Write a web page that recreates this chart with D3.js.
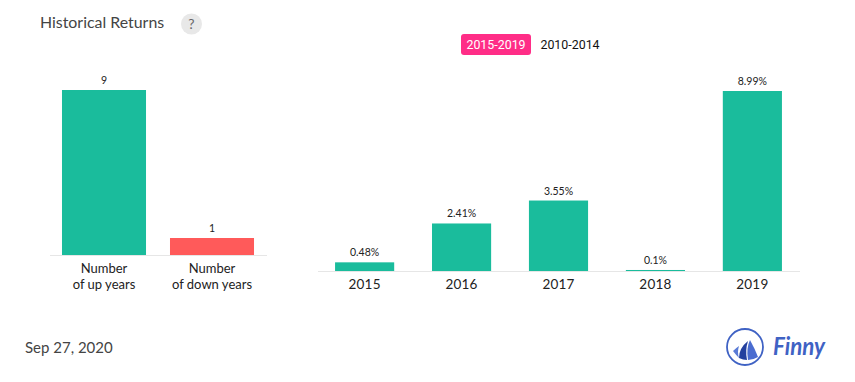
<!DOCTYPE html>
<html><head><meta charset="utf-8">
<script src="https://cdn.jsdelivr.net/npm/d3@7/dist/d3.min.js"></script>
<style>html,body{margin:0;padding:0;background:#fff}svg{display:block}text{font-family:Lato,sans-serif}</style>
</head><body><svg id="c" width="855" height="382"></svg>
<script>
const countCats = ["up", "down"];
const countLines = [["Number", "of up years"], ["Number", "of down years"]];
const countVals = [9, 1];
const countCols = ["#1abc9c", "#ff5a5a"];
const years = ["2015", "2016", "2017", "2018", "2019"];
const returns = [0.48, 2.41, 3.55, 0.1, 8.99];
const retLabels = ["0.48%", "2.41%", "3.55%", "0.1%", "8.99%"];
const ranges = ["2015-2019", "2010-2014"];

const svg = d3.select("#c");
// title
svg.append("text").attr("x",40).attr("y",28).attr("font-size",15.9).attr("fill","#444").text("Historical Returns");
svg.append("circle").attr("cx",191.5).attr("cy",24).attr("r",10.5).attr("fill","#e8e8e8");
svg.append("text").attr("x",191.5).attr("y",29).attr("text-anchor","middle").attr("font-size",14).attr("fill","#666").text("?");
// legend
svg.append("rect").attr("x",461).attr("y",34).attr("width",70).attr("height",21).attr("rx",3).attr("fill","#ff2d87");
svg.append("text").attr("x",496).attr("y",49).attr("text-anchor","middle").attr("font-size",12.4).attr("fill","#fff").style("font-family","Roboto").text(ranges[0]);
svg.append("text").attr("x",570).attr("y",49).attr("text-anchor","middle").attr("font-size",12.4).attr("fill","#111").style("font-family","Roboto").text(ranges[1]);

// left chart
const x1 = d3.scaleBand().domain(countCats).range([50,266]).paddingInner(0.222).paddingOuter(0.111);
const y1 = d3.scaleLinear().domain([0,9]).range([256.5,90]);
const base1 = 255;
svg.append("line").attr("x1",50).attr("x2",267).attr("y1",255.5).attr("y2",255.5).attr("stroke","#e6e6e6");
svg.append("g").selectAll("rect").data(countVals).join("rect")
  .attr("x",(d,i)=>x1(countCats[i])).attr("width",x1.bandwidth())
  .attr("y",d=>y1(d)).attr("height",d=>base1-y1(d)).attr("fill",(d,i)=>countCols[i]);
svg.append("g").selectAll("text").data(countVals).join("text")
  .attr("x",(d,i)=>x1(countCats[i])+x1.bandwidth()/2).attr("y",d=>y1(d)-6)
  .attr("text-anchor","middle").attr("font-size",10.5).attr("fill","#222").text(d=>d);
countLines.forEach((ls,i)=>ls.forEach((l,j)=>{
  svg.append("text").attr("x",x1(countCats[i])+x1.bandwidth()/2).attr("y",273+j*16)
    .attr("text-anchor","middle").attr("font-size",13).attr("fill","#222").text(l);
}));

// right chart
const x2 = d3.scaleBand().domain(years).range([318,799]).paddingInner(0.39).paddingOuter(0.176);
const y2 = d3.scaleLinear().domain([0,8.99]).range([272,91]);
const base2 = 271;
svg.append("line").attr("x1",318).attr("x2",800).attr("y1",271.5).attr("y2",271.5).attr("stroke","#e6e6e6");
svg.append("g").selectAll("rect").data(returns).join("rect")
  .attr("x",(d,i)=>x2(years[i])).attr("width",x2.bandwidth())
  .attr("y",d=>y2(d)).attr("height",d=>base2-y2(d)).attr("fill","#1abc9c");
svg.append("g").selectAll("text").data(returns).join("text")
  .attr("x",(d,i)=>x2(years[i])+x2.bandwidth()/2).attr("y",d=>y2(d)-6)
  .attr("text-anchor","middle").attr("font-size",10.5).attr("fill","#222").text((d,i)=>retLabels[i]);
svg.append("g").selectAll("text").data(years).join("text")
  .attr("x",d=>x2(d)+x2.bandwidth()/2).attr("y",289)
  .attr("text-anchor","middle").attr("font-size",13.5).attr("letter-spacing",0.2).attr("fill","#222").text(d=>d);

// footer
svg.append("text").attr("x",25).attr("y",353).attr("font-size",15).attr("fill","#444").text("Sep 27, 2020");
// logo
const logo = svg.append("g").attr("fill","#3f62c4");
logo.append("circle").attr("cx",745).attr("cy",347).attr("r",18).attr("fill","none").attr("stroke","#3f62c4").attr("stroke-width",1.8);
logo.append("path").attr("d","M733 351 Q736 348 739 346 Q737 352 739 358 Q736 355 733 351 Z").attr("fill","#5a7bd6");
logo.append("path").attr("d","M739 358 Q739 348 748 341 Q745 350 747 360 Q743 360 739 358 Z").attr("fill","#23409f");
logo.append("path").attr("d","M748 360 Q746 348 750 340 Q755 349 758 357 Q753 360 748 360 Z").attr("fill","#4a6cd0");
svg.append("text").attr("x",773).attr("y",355).attr("font-size",24).attr("font-weight",700).attr("font-style","italic")
  .attr("textLength",52).attr("lengthAdjust","spacingAndGlyphs").attr("fill","#3f62c4").text("Finny");
</script></body></html>
